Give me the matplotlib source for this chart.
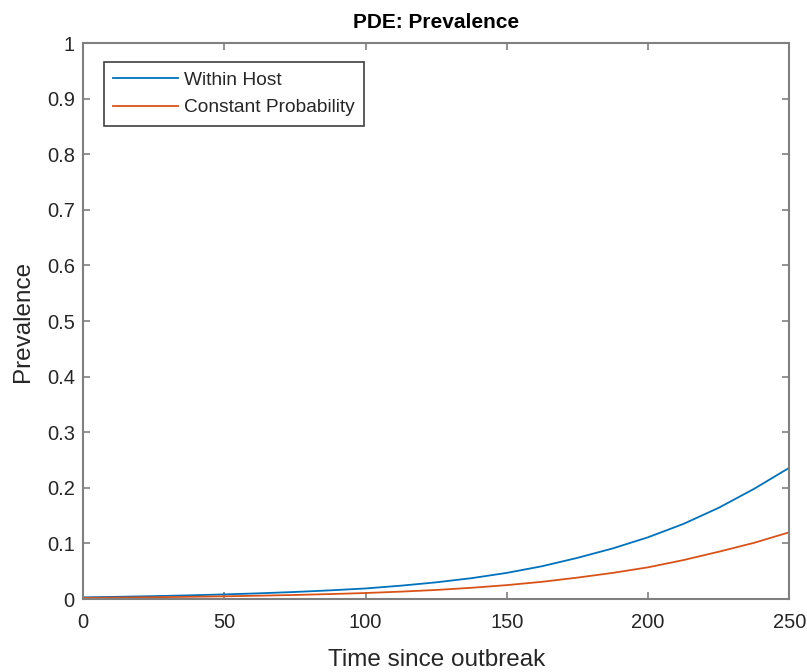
import numpy as np
from matplotlib import pyplot as plt
from matplotlib.ticker import FuncFormatter

# values
time = [0, 12.5, 25, 37.5, 50, 62.5, 75, 87.5, 100, 112.5, 125,
        137.5, 150, 162.5, 175, 187.5, 200, 212.5, 225, 237.5, 250]
within_host = [0.003, 0.004, 0.0052, 0.0066, 0.0083, 0.0103, 0.0127, 0.0156, 0.019,
               0.024, 0.030, 0.0375, 0.047, 0.059, 0.074, 0.091, 0.111, 0.135,
               0.164, 0.198, 0.236]
constant_prob = [0.002, 0.0026, 0.0032, 0.004, 0.0049, 0.006, 0.0073, 0.0089, 0.0108,
                 0.0133, 0.0163, 0.0202, 0.025, 0.031, 0.0385, 0.047, 0.057, 0.070,
                 0.085, 0.101, 0.12]

plt.rcParams['font.family'] = ['Liberation Sans', 'DejaVu Sans']
text_col = '#262626'
axis_col = '#808080'

fig = plt.figure(figsize=(8.07, 6.72), dpi=100)
ax = fig.add_axes([0.103, 0.1086, 0.875, 0.8274])

ax.plot(time, within_host, color='#0072BD', lw=1.3, label='Within Host')
ax.plot(time, constant_prob, color='#D95319', lw=1.3, label='Constant Probability')

ax.set_xlim(0, 250)
ax.set_ylim(0, 1)
ax.set_xticks(np.arange(0, 251, 50))
ax.set_yticks(np.arange(0, 1.01, 0.1))
ax.yaxis.set_major_formatter(FuncFormatter(lambda v, p: f'{v:.1f}'.rstrip('0').rstrip('.') if v else '0'))

for s in ax.spines.values():
    s.set_color(axis_col)
    s.set_linewidth(1.5)
ax.tick_params(direction='in', length=5, width=1.2, color=axis_col, labelcolor=text_col,
               labelsize=14.5, top=True, right=True, pad=6)
ax.tick_params(axis='x', pad=10)

ax.set_title('PDE: Prevalence', fontsize=15, fontweight='bold', color='black', pad=11)
ax.set_xlabel('Time since outbreak', fontsize=17.5, color=text_col, labelpad=12)
ax.set_ylabel('Prevalence', fontsize=17.5, color=text_col, labelpad=9)

leg = ax.legend(loc='upper left', bbox_to_anchor=(0.029, 0.966), borderaxespad=0,
                fontsize=13.8, fancybox=False, framealpha=1, handlelength=3.4,
                handletextpad=0.28, borderpad=0.5, labelspacing=0.52)
leg.get_frame().set_edgecolor('#404040')
leg.get_frame().set_linewidth(1.2)
for t in leg.get_texts():
    t.set_color(text_col)

fig.savefig('out.png', dpi=100)
